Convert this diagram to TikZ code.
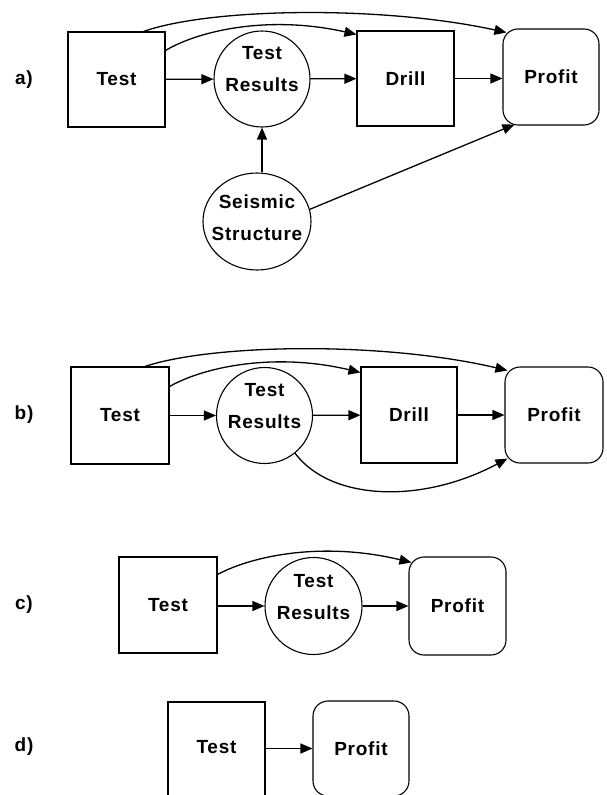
\documentclass[tikz,border=0pt]{standalone}
\usepackage{fontspec}
\newfontfamily\lblfont{Liberation Sans}[LetterSpace=4]
\usetikzlibrary{arrows.meta,shapes.geometric}
\begin{document}
\begin{tikzpicture}[x=1pt,y=-1pt,
  every node/.style={font=\lblfont\bfseries\fontsize{19}{32}\selectfont, inner sep=0pt},
  sqbox/.style={draw, line width=1.1pt, minimum width=97pt, minimum height=95pt},
  rbox/.style={draw, line width=1.1pt, rounded corners=15pt, minimum width=96pt, minimum height=96pt},
  circ/.style={draw, circle, line width=1.1pt, minimum size=96pt},
  conn/.style={line width=1.3pt, -{Triangle[length=12pt,width=10pt]}},
  two/.style={align=center, yshift=#1}]
\useasboundingbox (0,0) rectangle (607,795);
\clip (0,0) rectangle (607,795);

% ---------- a) ----------
\node (la) at (24,80) {a)};
\node[sqbox] (testa) at (116.5,79.5) {Test};
\node[circ, label={[two=10pt]center:Test\\Results}] (tra) at (262,79) {};
\node[sqbox] (drilla) at (405.5,78.5) {Drill};
\node[rbox] (profita) at (551,77) {Profit};
\node[draw, ellipse, line width=1.1pt, minimum width=108pt, minimum height=97pt,
      label={[two=3.5pt]center:Seismic\\Structure}] (seis) at (257,221.5) {};

\draw[conn] (testa) -- (tra);
\draw[conn] (tra) -- (drilla);
\draw[conn] (drilla.east) -- (drilla.east -| profita.west);
\draw[conn] (seis.north -| tra.south) -- (tra.south);
\draw[conn] (seis.13) -- ([xshift=12pt,yshift=1pt]profita.south west);
\draw[conn] ([xshift=-22pt]testa.north east) .. controls (210,8) and (380,5) .. ([xshift=4pt,yshift=-4pt]profita.north west);
\draw[conn] ([yshift=-19pt]testa.north east) .. controls (200,30) and (270,15) .. ([yshift=-4pt]drilla.north west);

% ---------- b) ----------
\node (lb) at (24,415) {b)};
\node[sqbox, minimum width=98pt, minimum height=97pt] (testb) at (120,415.5) {Test};
\node[circ, label={[two=9.5pt]center:Test\\Results}] (trb) at (264.5,415.5) {};
\node[sqbox, minimum width=96pt, minimum height=96pt] (drillb) at (409,415) {Drill};
\node[rbox, minimum width=98pt] (profitb) at (554,415) {Profit};

\draw[conn] (testb) -- (trb);
\draw[conn] (trb) -- (drillb);
\draw[conn] (drillb) -- (profitb);
\draw[conn] ([xshift=25pt]testb.north) .. controls (212,344) and (382,341) .. ([xshift=3pt,yshift=-4pt]profitb.north west);
\draw[conn] ([yshift=-20pt]testb.north east) .. controls (204,367) and (274,352) .. ([yshift=-6pt]drillb.north west);
\draw[conn] (trb.-51) .. controls (330,500) and (420,505) .. ([xshift=3pt,yshift=5pt]profitb.south west);

% ---------- c) ----------
\node (lc) at (24,605) {c)};
\node[sqbox, minimum width=98pt, minimum height=96pt] (testc) at (168,605) {Test};
\node[circ, minimum size=97pt, label={[two=9pt]center:Test\\Results}] (trc) at (313.5,606) {};
\node[rbox, minimum width=97pt, minimum height=98pt] (profitc) at (457.5,606) {Profit};

\draw[conn] (testc.east |- trc) -- (trc);
\draw[conn] (trc) -- (profitc);
\draw[conn] ([yshift=-18pt]testc.north east) .. controls (252,556) and (322,541) .. ([xshift=3pt,yshift=-6pt]profitc.north west);

% ---------- d) ----------
\node (ld) at (24,747) {d)};
\node[sqbox, minimum width=97pt, minimum height=97pt] (testd) at (216.5,750.5) {};
\node at (216.5,747) {Test};
\node[rbox, minimum width=96pt, minimum height=95pt] (profitd) at (361,748.5) {Profit};

\draw[conn] (testd.east |- profitd.west) -- (profitd.west);
\end{tikzpicture}
\end{document}
